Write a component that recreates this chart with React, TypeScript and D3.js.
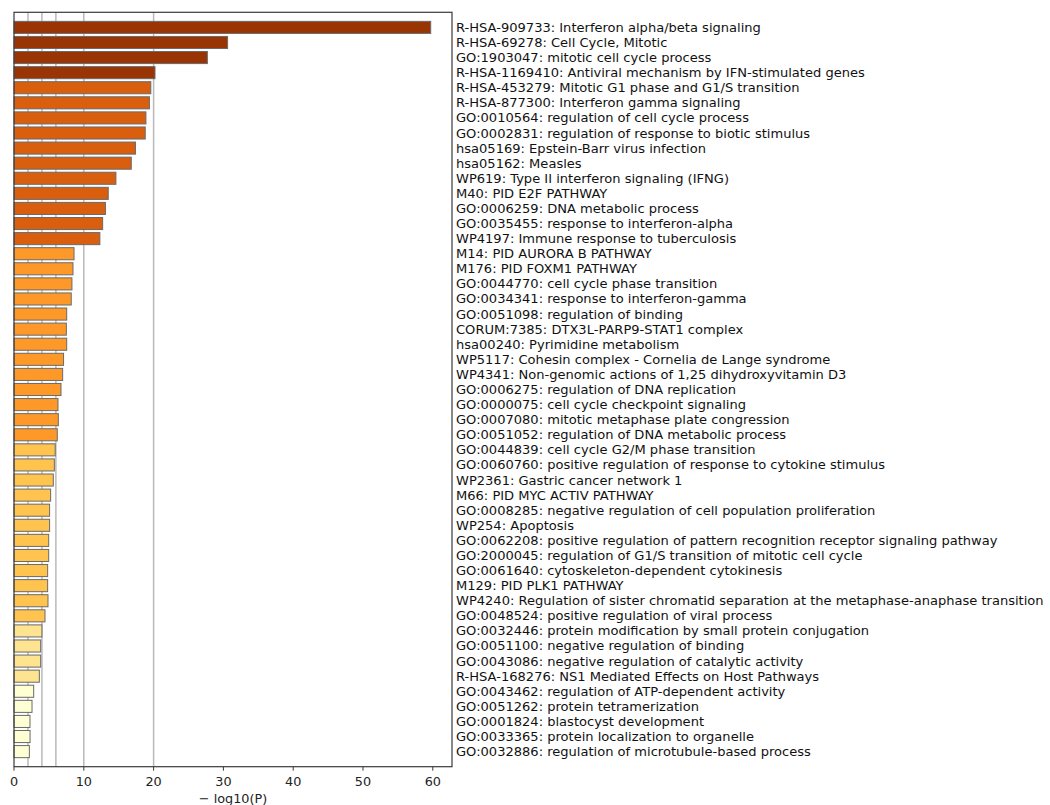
import React from "react";
import * as d3 from "d3";

// Enriched terms, top to bottom
const terms: string[] = [
  "R-HSA-909733: Interferon alpha/beta signaling",
  "R-HSA-69278: Cell Cycle, Mitotic",
  "GO:1903047: mitotic cell cycle process",
  "R-HSA-1169410: Antiviral mechanism by IFN-stimulated genes",
  "R-HSA-453279: Mitotic G1 phase and G1/S transition",
  "R-HSA-877300: Interferon gamma signaling",
  "GO:0010564: regulation of cell cycle process",
  "GO:0002831: regulation of response to biotic stimulus",
  "hsa05169: Epstein-Barr virus infection",
  "hsa05162: Measles",
  "WP619: Type II interferon signaling (IFNG)",
  "M40: PID E2F PATHWAY",
  "GO:0006259: DNA metabolic process",
  "GO:0035455: response to interferon-alpha",
  "WP4197: Immune response to tuberculosis",
  "M14: PID AURORA B PATHWAY",
  "M176: PID FOXM1 PATHWAY",
  "GO:0044770: cell cycle phase transition",
  "GO:0034341: response to interferon-gamma",
  "GO:0051098: regulation of binding",
  "CORUM:7385: DTX3L-PARP9-STAT1 complex",
  "hsa00240: Pyrimidine metabolism",
  "WP5117: Cohesin complex - Cornelia de Lange syndrome",
  "WP4341: Non-genomic actions of 1,25 dihydroxyvitamin D3",
  "GO:0006275: regulation of DNA replication",
  "GO:0000075: cell cycle checkpoint signaling",
  "GO:0007080: mitotic metaphase plate congression",
  "GO:0051052: regulation of DNA metabolic process",
  "GO:0044839: cell cycle G2/M phase transition",
  "GO:0060760: positive regulation of response to cytokine stimulus",
  "WP2361: Gastric cancer network 1",
  "M66: PID MYC ACTIV PATHWAY",
  "GO:0008285: negative regulation of cell population proliferation",
  "WP254: Apoptosis",
  "GO:0062208: positive regulation of pattern recognition receptor signaling pathway",
  "GO:2000045: regulation of G1/S transition of mitotic cell cycle",
  "GO:0061640: cytoskeleton-dependent cytokinesis",
  "M129: PID PLK1 PATHWAY",
  "WP4240: Regulation of sister chromatid separation at the metaphase-anaphase transition",
  "GO:0048524: positive regulation of viral process",
  "GO:0032446: protein modification by small protein conjugation",
  "GO:0051100: negative regulation of binding",
  "GO:0043086: negative regulation of catalytic activity",
  "R-HSA-168276: NS1 Mediated Effects on Host Pathways",
  "GO:0043462: regulation of ATP-dependent activity",
  "GO:0051262: protein tetramerization",
  "GO:0001824: blastocyst development",
  "GO:0033365: protein localization to organelle",
  "GO:0032886: regulation of microtubule-based process",
];

// -log10(P) for each term
const negLogP: number[] = [
  59.7, 30.6, 27.7, 20.2, 19.6, 19.4, 18.9, 18.8, 17.4, 16.8,
  14.6, 13.5, 13.1, 12.7, 12.3, 8.6, 8.45, 8.3, 8.2, 7.55,
  7.5, 7.55, 7.1, 6.97, 6.73, 6.3, 6.35, 6.2, 5.9, 5.78,
  5.63, 5.25, 5.1, 5.1, 4.97, 4.97, 4.82, 4.82, 4.87, 4.44,
  4.0, 3.82, 3.82, 3.63, 2.82, 2.58, 2.29, 2.3, 2.2,
];

// Significance bin for each term (index into binColors)
const bins: number[] = [
  5, 5, 5, 5, 4, 4, 4, 4, 4, 4,
  4, 4, 4, 4, 4, 3, 3, 3, 3, 3,
  3, 3, 3, 3, 3, 3, 3, 3, 2, 2,
  2, 2, 2, 2, 2, 2, 2, 2, 2, 2,
  1, 1, 1, 1, 0, 0, 0, 0, 0,
];

const binColors: string[] = ["#ffffd4", "#fee391", "#fec44f", "#fe9929", "#d95f0e", "#993404"];

const xTicks: number[] = [0, 10, 20, 30, 40, 50, 60];
const gridValues: number[] = [2, 4, 6, 10, 20];

const W = 1050;
const H = 805;
const left = 14;
const right = 452;
const top = 12.3;
const bottom = 766.7;
const font = "DejaVu Sans, sans-serif";

export default function App() {
  const x = d3.scaleLinear().domain([0, 62.75]).range([left, right]);
  const y = d3.scaleLinear().domain([-1, terms.length]).range([top, bottom]);
  const step = y(1) - y(0);
  const barH = step * 0.8;

  return (
    <svg
      width={W}
      height={H}
      style={{ position: "absolute", left: 0, top: 0, background: "#fff" }}
      fontFamily={font}
    >
      {gridValues.map((g) => (
        <line
          key={"g" + g}
          x1={x(g)}
          x2={x(g)}
          y1={top}
          y2={bottom}
          stroke="#b9b9b9"
          strokeWidth={1.5}
        />
      ))}
      {negLogP.map((v, i) => (
        <rect
          key={"b" + i}
          x={x(0)}
          y={y(i) - barH / 2}
          width={x(v) - x(0)}
          height={barH}
          fill={binColors[bins[i]]}
          stroke="#6a6a6a"
          strokeWidth={1}
        />
      ))}
      <rect
        x={left}
        y={top}
        width={right - left}
        height={bottom - top}
        fill="none"
        stroke="#3a3a3a"
        strokeWidth={1.2}
      />
      {terms.map((t, i) => (
        <text
          key={"t" + i}
          x={456}
          y={y(i)}
          dominantBaseline="central"
          fontSize={13.05}
          fill="#111"
        >
          {t}
        </text>
      ))}
      {xTicks.map((t) => (
        <g key={"x" + t}>
          <line x1={x(t)} x2={x(t)} y1={bottom} y2={bottom + 4} stroke="#3a3a3a" strokeWidth={1} />
          <text
            x={x(t)}
            y={bottom + 15}
            textAnchor="middle"
            dominantBaseline="central"
            fontSize={12.8}
            fill="#222"
          >
            {t}
          </text>
        </g>
      ))}
      <text
        x={233}
        y={bottom + 31.5}
        textAnchor="middle"
        dominantBaseline="central"
        fontSize={12.8}
        fill="#222"
      >
        − log10(P)
      </text>
    </svg>
  );
}
